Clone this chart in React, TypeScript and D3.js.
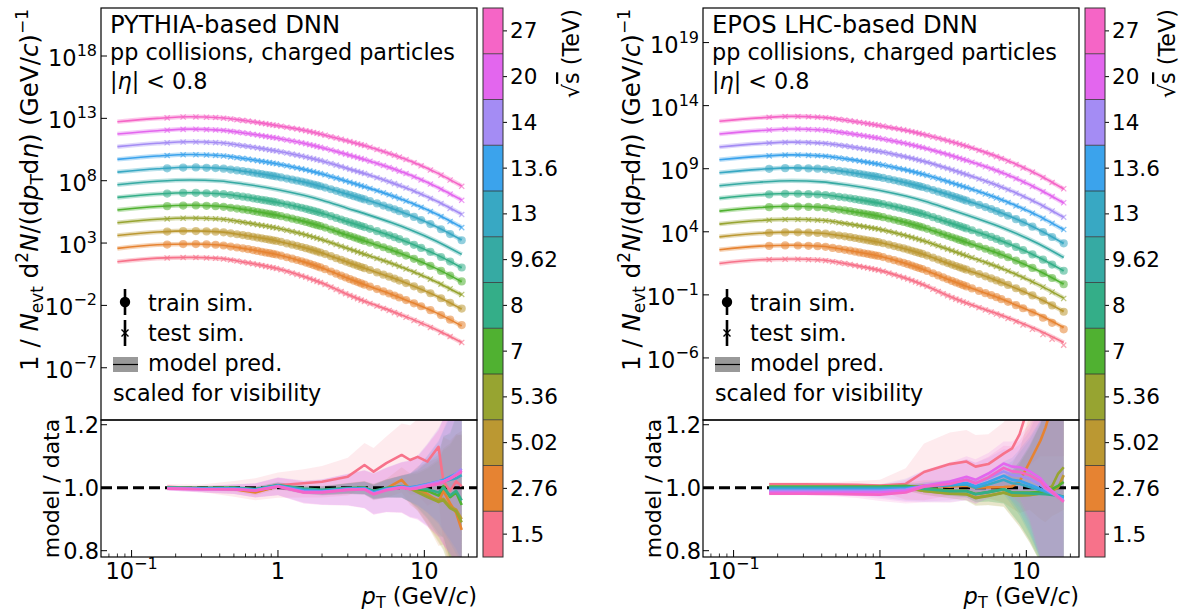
import React from 'react';
import * as d3 from 'd3';

// sqrt(s) in TeV, bottom to top of the colour bar
const energies = ['1.5', '2.76', '5.02', '5.36', '7', '8', '9.62', '13', '13.6', '14', '20', '27'];
const colors = ['#f7728a', '#e68332', '#bb9832', '#97a431', '#50b131', '#34ae88', '#36aaa3', '#38a8c3', '#3ba3ec', '#a48cf4', '#e366ee', '#f565c6'];
// 'o' = train sim., 'x' = test sim., '' = no simulated points
const markerKind = ['x', 'o', 'o', 'x', 'o', 'o', '', 'o', 'x', 'x', 'x', 'x'];

// model prediction grid (GeV/c) and log10 of the scaled yields
const modelPt = [0.08, 0.15, 0.25, 0.4, 0.6, 1, 1.5, 2, 3, 4, 6, 8, 12, 18];

const pythiaSpectra = [
  [1.50, 1.79, 1.85, 1.77, 1.45, 0.94, 0.32, -0.21, -1.12, -1.71, -2.46, -3.04, -3.93, -4.97],
  [2.57, 2.86, 2.93, 2.85, 2.54, 2.06, 1.49, 1.00, 0.17, -0.39, -1.12, -1.70, -2.58, -3.64],
  [3.61, 3.89, 3.98, 3.90, 3.61, 3.15, 2.64, 2.20, 1.45, 0.94, 0.23, -0.34, -1.23, -2.30],
  [4.63, 4.91, 5.01, 4.93, 4.64, 4.19, 3.70, 3.27, 2.56, 2.06, 1.36, 0.80, -0.10, -1.17],
  [5.65, 5.93, 6.03, 5.95, 5.67, 5.22, 4.74, 4.32, 3.62, 3.13, 2.43, 1.87, 0.97, -0.10],
  [6.66, 6.94, 7.04, 6.96, 6.69, 6.25, 5.79, 5.39, 4.71, 4.24, 3.55, 2.99, 2.09, 1.02],
  [7.68, 7.96, 8.06, 7.98, 7.72, 7.28, 6.83, 6.44, 5.78, 5.32, 4.62, 4.07, 3.17, 2.09],
  [8.69, 8.96, 9.08, 9.00, 8.74, 8.32, 7.89, 7.52, 6.91, 6.46, 5.78, 5.23, 4.33, 3.24],
  [9.71, 9.98, 10.10, 10.02, 9.76, 9.34, 8.91, 8.54, 7.93, 7.48, 6.80, 6.25, 5.35, 4.26],
  [10.73, 11.00, 11.12, 11.04, 10.78, 10.36, 9.94, 9.58, 8.97, 8.53, 7.84, 7.30, 6.39, 5.31],
  [11.74, 12.01, 12.14, 12.06, 11.81, 11.40, 11.00, 10.65, 10.08, 9.66, 8.99, 8.45, 7.54, 6.45],
  [12.73, 13.00, 13.13, 13.05, 12.81, 12.41, 12.04, 11.71, 11.18, 10.78, 10.11, 9.58, 8.67, 7.57],
];

const eposSpectra = [
  [1.49, 1.78, 1.84, 1.76, 1.45, 0.94, 0.32, -0.21, -1.12, -1.68, -2.40, -2.94, -3.79, -4.78],
  [2.57, 2.86, 2.93, 2.85, 2.54, 2.06, 1.49, 1.00, 0.17, -0.38, -1.10, -1.68, -2.54, -3.59],
  [3.60, 3.88, 3.97, 3.89, 3.61, 3.15, 2.64, 2.20, 1.45, 0.94, 0.22, -0.35, -1.25, -2.32],
  [4.61, 4.89, 4.99, 4.91, 4.63, 4.19, 3.70, 3.27, 2.56, 2.05, 1.33, 0.76, -0.17, -1.26],
  [5.64, 5.92, 6.02, 5.94, 5.67, 5.22, 4.74, 4.32, 3.62, 3.12, 2.42, 1.85, 0.93, -0.15],
  [6.65, 6.93, 7.03, 6.95, 6.69, 6.25, 5.79, 5.39, 4.71, 4.22, 3.51, 2.93, 2.00, 0.90],
  [7.65, 7.93, 8.04, 7.96, 7.71, 7.28, 6.83, 6.44, 5.78, 5.30, 4.58, 4.01, 3.07, 1.96],
  [8.68, 8.95, 9.07, 8.99, 8.74, 8.32, 7.89, 7.52, 6.91, 6.43, 5.73, 5.15, 4.20, 3.07],
  [9.71, 9.98, 10.10, 10.02, 9.76, 9.34, 8.91, 8.54, 7.93, 7.47, 6.77, 6.20, 5.28, 4.16],
  [10.72, 10.99, 11.11, 11.03, 10.78, 10.36, 9.94, 9.58, 8.97, 8.50, 7.79, 7.22, 6.26, 5.14],
  [11.75, 12.02, 12.15, 12.07, 11.81, 11.40, 11.00, 10.65, 10.08, 9.63, 8.94, 8.37, 7.41, 6.28],
  [12.76, 13.03, 13.15, 13.07, 12.82, 12.41, 12.04, 11.71, 11.18, 10.75, 10.06, 9.49, 8.54, 7.39],
];

// simulated data bin centres (GeV/c)
const dataPt = [0.175, 0.225, 0.275, 0.325, 0.375, 0.425, 0.475, 0.525, 0.575, 0.625, 0.675, 0.725, 0.775, 0.825,
  0.875, 0.925, 0.975, 1.05, 1.15, 1.25, 1.35, 1.45, 1.55, 1.65, 1.75, 1.85, 1.95, 2.1, 2.3, 2.5, 2.7, 2.9, 3.1,
  3.3, 3.5, 3.7, 3.9, 4.25, 4.75, 5.25, 5.75, 6.25, 6.75, 7.5, 8.5, 9.5, 11, 13, 15, 18];

// model / data
const ratioPt = [0.175, 0.3, 0.5, 0.7, 1.0, 1.5, 2.0, 3.0, 3.9, 4.5, 5.5, 7.0, 8.0, 9.0, 10.5, 12.5, 13.5, 15, 16.5, 18];

const pythiaRatio = [
  [1.003, 0.998, 0.996, 0.995, 1.008, 1.014, 1.019, 1.035, 1.072, 1.051, 1.078, 1.104, 1.088, 1.098, 1.083, 1.130, 1.020, 0.990, 1.020, 1.005],
  [0.999, 0.998, 0.995, 0.985, 1.005, 0.992, 0.990, 0.997, 1.000, 0.985, 0.998, 1.025, 0.995, 0.998, 0.980, 0.955, 0.990, 0.950, 0.920, 0.866],
  [1.000, 0.998, 0.999, 0.992, 1.006, 0.993, 0.990, 0.997, 0.999, 0.986, 0.997, 1.005, 1.000, 0.990, 0.975, 0.960, 0.965, 0.940, 0.930, 0.900],
  [1.000, 0.998, 0.999, 0.993, 1.007, 0.994, 0.991, 0.998, 1.000, 0.987, 0.998, 1.003, 0.997, 0.985, 0.970, 0.955, 0.960, 0.935, 0.925, 0.890],
  [1.000, 0.999, 1.000, 0.995, 1.008, 0.996, 0.992, 0.998, 1.000, 0.988, 0.998, 1.003, 1.000, 0.995, 0.990, 0.975, 1.005, 0.970, 0.985, 0.945],
  [1.000, 0.999, 1.000, 0.996, 1.008, 0.997, 0.993, 0.999, 1.000, 0.990, 0.999, 1.004, 1.000, 0.998, 0.995, 0.985, 1.000, 0.975, 0.990, 0.960],
  null,
  [1.000, 0.998, 0.998, 0.994, 1.007, 0.993, 0.990, 0.997, 0.999, 0.986, 0.996, 1.003, 1.000, 1.003, 1.010, 1.015, 1.020, 1.025, 1.030, 1.040],
  [0.999, 0.997, 0.997, 0.993, 1.006, 0.991, 0.988, 0.996, 0.998, 0.985, 0.996, 1.004, 1.001, 1.005, 1.012, 1.020, 1.025, 1.035, 1.045, 1.050],
  [0.998, 0.996, 0.996, 0.992, 1.005, 0.988, 0.987, 0.994, 0.996, 0.982, 0.994, 1.002, 0.998, 1.003, 1.010, 1.020, 1.020, 1.030, 1.045, 1.060],
  [0.997, 0.995, 0.995, 0.991, 1.004, 0.986, 0.986, 0.994, 0.995, 0.980, 0.993, 1.001, 0.996, 1.000, 1.008, 1.015, 1.020, 1.030, 1.040, 1.055],
  [0.997, 0.995, 0.995, 0.991, 1.004, 0.985, 0.985, 0.993, 0.995, 0.979, 0.992, 1.000, 0.995, 0.998, 1.005, 1.012, 1.018, 1.028, 1.040, 1.050],
];

const eposRatio = [
  [1.011, 1.011, 1.010, 1.009, 1.007, 1.012, 1.050, 1.075, 1.083, 1.067, 1.075, 1.108, 1.125, 1.170, 1.270, 1.400, 1.450, 1.500, 1.550, 1.600],
  [1.000, 1.000, 0.999, 0.999, 0.999, 1.001, 1.006, 1.003, 1.006, 1.000, 1.001, 1.002, 1.004, 1.020, 1.080, 1.150, 1.190, 1.260, 1.320, 1.380],
  [0.996, 0.996, 0.996, 0.996, 0.997, 1.000, 0.990, 0.982, 0.980, 0.969, 0.975, 0.985, 0.978, 0.977, 0.978, 0.982, 0.985, 0.990, 1.000, 1.040],
  [0.998, 0.998, 0.998, 0.998, 0.999, 1.001, 0.990, 0.981, 0.979, 0.967, 0.974, 0.984, 0.975, 0.975, 0.976, 0.982, 0.990, 1.005, 1.045, 1.065],
  [1.004, 1.004, 1.004, 1.004, 1.004, 1.006, 1.000, 0.990, 0.990, 0.980, 0.986, 0.995, 0.985, 0.985, 0.985, 0.986, 0.990, 0.996, 1.006, 1.018],
  [1.001, 1.001, 1.001, 1.001, 1.001, 1.003, 0.996, 0.989, 0.989, 0.979, 0.986, 0.995, 0.984, 0.983, 0.982, 0.980, 0.979, 0.977, 0.975, 0.972],
  null,
  [0.997, 0.997, 0.997, 0.997, 0.997, 0.999, 1.004, 1.007, 1.010, 1.000, 1.010, 1.025, 1.014, 1.012, 1.002, 0.992, 0.987, 0.981, 0.976, 0.970],
  [0.994, 0.994, 0.994, 0.994, 0.994, 0.997, 1.005, 1.010, 1.015, 1.005, 1.018, 1.038, 1.025, 1.022, 1.010, 0.996, 0.990, 0.981, 0.975, 0.968],
  [0.990, 0.990, 0.990, 0.990, 0.990, 0.994, 1.005, 1.015, 1.025, 1.014, 1.030, 1.052, 1.040, 1.038, 1.028, 1.008, 0.996, 0.982, 0.970, 0.960],
  [0.985, 0.985, 0.985, 0.985, 0.985, 0.990, 1.006, 1.020, 1.035, 1.025, 1.045, 1.077, 1.067, 1.065, 1.053, 1.030, 1.010, 0.990, 0.972, 0.956],
  [0.981, 0.981, 0.980, 0.979, 0.978, 0.985, 1.003, 1.012, 1.025, 1.014, 1.033, 1.063, 1.052, 1.050, 1.040, 1.020, 1.000, 0.985, 0.970, 0.955],
];

// half widths of the model uncertainty bands in the ratio
const pyBand1p5 = [0.008, 0.012, 0.025, 0.035, 0.04, 0.045, 0.05, 0.06, 0.07, 0.075, 0.085, 0.1, 0.11, 0.12, 0.14, 0.17, 0.2, 0.22, 0.25, 0.3];
const pyBand2p76 = [0.004, 0.005, 0.007, 0.009, 0.01, 0.012, 0.014, 0.018, 0.022, 0.025, 0.03, 0.04, 0.05, 0.07, 0.1, 0.14, 0.17, 0.2, 0.25, 0.3];
const pyBandMid = [0.004, 0.005, 0.006, 0.008, 0.009, 0.011, 0.013, 0.016, 0.02, 0.023, 0.028, 0.035, 0.045, 0.06, 0.09, 0.13, 0.16, 0.2, 0.24, 0.28];
const pyBandHigh = [0.006, 0.01, 0.015, 0.022, 0.028, 0.035, 0.04, 0.05, 0.06, 0.065, 0.07, 0.08, 0.09, 0.1, 0.13, 0.17, 0.2, 0.24, 0.28, 0.32];
const epBand1p5 = [0.006, 0.006, 0.008, 0.012, 0.018, 0.05, 0.09, 0.1, 0.1, 0.1, 0.095, 0.1, 0.12, 0.15, 0.2, 0.3, 0.35, 0.4, 0.45, 0.5];
const epBand2p76 = [0.004, 0.004, 0.005, 0.007, 0.009, 0.014, 0.018, 0.02, 0.024, 0.028, 0.035, 0.05, 0.07, 0.1, 0.15, 0.25, 0.3, 0.35, 0.4, 0.45];
const epBandMid = [0.004, 0.004, 0.005, 0.006, 0.008, 0.01, 0.012, 0.015, 0.02, 0.025, 0.03, 0.045, 0.07, 0.1, 0.15, 0.22, 0.27, 0.32, 0.38, 0.42];
const epBandHigh = [0.005, 0.005, 0.008, 0.012, 0.02, 0.035, 0.05, 0.06, 0.065, 0.065, 0.065, 0.07, 0.08, 0.1, 0.15, 0.25, 0.3, 0.35, 0.4, 0.45];
const pythiaBands = [pyBand1p5, pyBand2p76, pyBandMid, pyBandMid, pyBandMid, pyBandMid, null, pyBandMid, pyBandMid, pyBandHigh, pyBandHigh, pyBandHigh];
const eposBands = [epBand1p5, epBand2p76, epBandMid, epBandMid, epBandMid, epBandMid, null, epBandMid, epBandMid, epBandHigh, epBandHigh, epBandHigh];

const pythiaYTicks = [18, 13, 8, 3, -2, -7];
const eposYTicks = [19, 14, 9, 4, -1, -6];
const xMajor = [0.1, 1, 10];
const xMinor = [0.07, 0.08, 0.09, 0.2, 0.3, 0.4, 0.5, 0.6, 0.7, 0.8, 0.9, 2, 3, 4, 5, 6, 7, 8, 9, 20];
const ratioTicks = [0.8, 1.0, 1.2];

const FONT = 'DejaVu Sans, sans-serif';
const W = 376;
const TOP = 8, SPLIT = 420, BOTTOM = 557;

const fmtExp = (k: number) => (k < 0 ? '\u2212' + Math.abs(k) : String(k));

function Panel(props: any) {
  const { x0, title, spectra, ratio, bands, yDom, yTicks, id, cbLabelX } = props;
  const x = d3.scaleLog().domain([0.0618, 22.9]).range([x0, x0 + W]);
  const y = d3.scaleLog().domain(yDom).range([SPLIT, TOP]);
  const yr = d3.scaleLinear().domain([0.78, 1.215]).range([BOTTOM, SPLIT]);

  const modelLine = d3.line<number>()
    .x((_, i) => x(modelPt[i]))
    .y(v => y(Math.pow(10, v)))
    .curve(d3.curveMonotoneX);
  const ratioLine = d3.line<number>()
    .x((_, i) => x(ratioPt[i]))
    .y(v => yr(v));

  const x1 = x0 + W;
  const cbX = x1 + 6;
  const segH = (BOTTOM - TOP) / energies.length;

  return (
    <g>
      <defs>
        <clipPath id={id + '-r'}><rect x={x0} y={SPLIT} width={W} height={BOTTOM - SPLIT} /></clipPath>
        <clipPath id={id + '-m'}><rect x={x0} y={TOP} width={W} height={SPLIT - TOP} /></clipPath>
      </defs>

      {/* spectra */}
      <g clipPath={`url(#${id}-m)`}>
        {spectra.map((arr: number[], i: number) => (
          <g key={'s' + i}>
            <path d={modelLine(arr) as string} fill="none" stroke={colors[i]} strokeWidth={4.5} strokeOpacity={0.35} />
            <path d={modelLine(arr) as string} fill="none" stroke={colors[i]} strokeWidth={1.6} />
          </g>
        ))}
        {spectra.map((arr: number[], i: number) => {
          if (!markerKind[i] || !ratio[i]) return null;
          const model = d3.scaleLog().domain(modelPt).range(arr);
          const r = d3.scaleLog().domain(ratioPt).range(ratio[i]).clamp(true);
          return (
            <g key={'p' + i}>
              {dataPt.map((pt, j) => {
                const cx = x(pt);
                const cy = y(Math.pow(10, model(pt)) / r(pt));
                if (markerKind[i] === 'o') {
                  return <circle key={j} cx={cx} cy={cy} r={4.1} fill={colors[i]} fillOpacity={0.55} />;
                }
                const s = 2.6;
                return (
                  <path key={j} d={`M${cx - s},${cy - s}L${cx + s},${cy + s}M${cx - s},${cy + s}L${cx + s},${cy - s}`}
                    stroke={colors[i]} strokeOpacity={0.65} strokeWidth={1.2} />
                );
              })}
            </g>
          );
        })}
      </g>

      {/* ratio panel */}
      <g clipPath={`url(#${id}-r)`}>
        {ratio.map((vals: number[] | null, i: number) => {
          if (!vals || !bands[i]) return null;
          const b = bands[i];
          const area = d3.area<number>()
            .x((_, k) => x(ratioPt[k]))
            .y0((v, k) => yr(v - b[k]))
            .y1((v, k) => yr(v + b[k]));
          return <path key={'b' + i} d={area(vals) as string} fill={colors[i]} fillOpacity={0.14} />;
        })}
        <line x1={x0} x2={x1} y1={yr(1)} y2={yr(1)} stroke="#000" strokeWidth={3} strokeDasharray="11 5" />
        {ratio.map((vals: number[] | null, i: number) =>
          vals ? <path key={'l' + i} d={ratioLine(vals) as string} fill="none" stroke={colors[i]} strokeWidth={2.6} strokeLinejoin="round" /> : null
        )}
      </g>

      {/* frames */}
      <rect x={x0} y={TOP} width={W} height={SPLIT - TOP} fill="none" stroke="#000" strokeWidth={1.2} />
      <rect x={x0} y={SPLIT} width={W} height={BOTTOM - SPLIT} fill="none" stroke="#000" strokeWidth={1.2} />

      {/* main y ticks */}
      {yTicks.map((k: number) => {
        const ty = y(Math.pow(10, k));
        return (
          <g key={'yt' + k}>
            <line x1={x0} x2={x0 + 6} y1={ty} y2={ty} stroke="#000" strokeWidth={1} />
            <text x={x0 - 4} y={ty + 10} textAnchor="end" fontSize={22.5}>
              10<tspan dy={-10} fontSize={16}>{fmtExp(k)}</tspan>
            </text>
          </g>
        );
      })}

      {/* ratio y ticks */}
      {ratioTicks.map(v => (
        <g key={'rt' + v}>
          <line x1={x0} x2={x0 + 6} y1={yr(v)} y2={yr(v)} stroke="#000" strokeWidth={1} />
          <text x={x0 - 2} y={yr(v) + 8} textAnchor="end" fontSize={22.5}>{v.toFixed(1)}</text>
        </g>
      ))}

      {/* x ticks */}
      {xMinor.map(v => (
        <line key={'xm' + v} x1={x(v)} x2={x(v)} y1={BOTTOM} y2={BOTTOM - 3.5} stroke="#000" strokeWidth={0.8} />
      ))}
      {xMajor.map(v => (
        <g key={'xM' + v}>
          <line x1={x(v)} x2={x(v)} y1={BOTTOM} y2={BOTTOM - 7} stroke="#000" strokeWidth={1} />
          <text x={x(v)} y={579} textAnchor="middle" fontSize={22.5}>
            {v === 0.1 ? <>10<tspan dy={-10} fontSize={16}>{'\u22121'}</tspan></> : String(v)}
          </text>
        </g>
      ))}

      {/* axis labels */}
      <text x={x1} y={604} textAnchor="end" fontSize={22.5}>
        <tspan fontStyle="italic">p</tspan><tspan dy={4} fontSize={16}>T</tspan><tspan dy={-4}>{' (GeV/'}</tspan><tspan fontStyle="italic">c</tspan>)
      </text>
      <text transform={`translate(${x0 - 63},${TOP + 1}) rotate(-90)`} textAnchor="end" fontSize={24.5}>
        {'1 / '}<tspan fontStyle="italic">N</tspan><tspan dy={5} fontSize={17}>evt</tspan><tspan dy={-5}>{' d'}</tspan><tspan dy={-10} fontSize={17}>2</tspan><tspan dy={10} fontStyle="italic">N</tspan>{'/(d'}<tspan fontStyle="italic">p</tspan><tspan dy={5} fontSize={17}>T</tspan><tspan dy={-5}>d</tspan><tspan fontStyle="italic">{'\u03b7'}</tspan>{') (GeV/'}<tspan fontStyle="italic">c</tspan>{')'}<tspan dy={-10} fontSize={17}>{'\u22121'}</tspan>
      </text>
      <text transform={`translate(${x0 - 42},${(SPLIT + BOTTOM) / 2}) rotate(-90)`} textAnchor="middle" fontSize={22}>model / data</text>

      {/* annotations */}
      <text x={x0 + 9} y={33} fontSize={24.3}>{title}</text>
      <text x={x0 + 9} y={60} fontSize={22.3}>pp collisions, charged particles</text>
      <text x={x0 + 9} y={89} fontSize={22.3}>|<tspan fontStyle="italic">{'\u03b7'}</tspan>{'| < 0.8'}</text>

      {/* legend */}
      <line x1={x0 + 24} x2={x0 + 24} y1={289} y2={315} stroke="#000" strokeWidth={2.6} />
      <circle cx={x0 + 24} cy={302} r={5.2} fill="#000" />
      <text x={x0 + 47} y={311} fontSize={22.3}>train sim.</text>
      <line x1={x0 + 24} x2={x0 + 24} y1={320} y2={346} stroke="#000" strokeWidth={2.6} />
      <path d={`M${x0 + 20.5},${329.5}L${x0 + 27.5},${336.5}M${x0 + 20.5},${336.5}L${x0 + 27.5},${329.5}`} stroke="#000" strokeWidth={1.4} />
      <text x={x0 + 47} y={341} fontSize={22.3}>test sim.</text>
      <rect x={x0 + 12} y={357} width={25} height={15} fill="#999" />
      <line x1={x0 + 12} x2={x0 + 37} y1={364.5} y2={364.5} stroke="#000" strokeWidth={1.2} />
      <text x={x0 + 47} y={371} fontSize={22.3}>model pred.</text>
      <text x={x0 + 12} y={401} fontSize={22.3}>scaled for visibility</text>

      {/* colour bar */}
      {energies.map((e, i) => {
        const top = BOTTOM - (i + 1) * segH;
        return (
          <g key={'cb' + e}>
            <rect x={cbX} y={top} width={20} height={segH} fill={colors[i]} />
            {i > 0 ? <line x1={cbX} x2={cbX + 20} y1={top + segH} y2={top + segH} stroke="#333" strokeWidth={0.8} /> : null}
            <line x1={cbX + 20} x2={cbX + 24} y1={top + segH / 2} y2={top + segH / 2} stroke="#000" strokeWidth={1} />
            <text x={cbX + 27} y={top + segH / 2 + 7.5} fontSize={21.5}>{e}</text>
          </g>
        );
      })}
      <rect x={cbX} y={TOP} width={20} height={BOTTOM - TOP} fill="none" stroke="#333" strokeWidth={1} />
      <text transform={`translate(${cbLabelX},${TOP + 1}) rotate(-90)`} textAnchor="end" fontSize={22.3}>
        {'\u221a'}<tspan style={{ textDecoration: 'overline' }}>s</tspan>{' (TeV)'}
      </text>
    </g>
  );
}

export default function App() {
  return (
    <svg width={1180} height={614} style={{ position: 'absolute', left: 0, top: 0, background: '#fff' }}
      fontFamily={FONT}>
      <Panel id="py" x0={101} title="PYTHIA-based DNN" spectra={pythiaSpectra} ratio={pythiaRatio} bands={pythiaBands}
        yDom={[Math.pow(10, -11.19), Math.pow(10, 21.85)]} yTicks={pythiaYTicks} cbLabelX={579} />
      <Panel id="ep" x0={703} title="EPOS LHC-based DNN" spectra={eposSpectra} ratio={eposRatio} bands={eposBands}
        yDom={[Math.pow(10, -10.92), Math.pow(10, 21.74)]} yTicks={eposYTicks} cbLabelX={1175} />
    </svg>
  );
}
